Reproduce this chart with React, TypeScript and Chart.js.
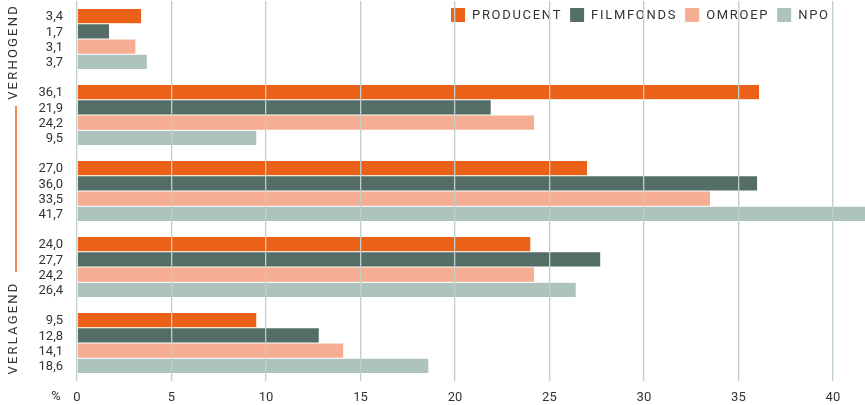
import React, { useEffect, useRef } from "react";
import { Chart, registerables } from "chart.js";

Chart.register(...registerables);

const categories = ["g1", "g2", "g3", "g4", "g5"];
const seriesNames = ["PRODUCENT", "FILMFONDS", "OMROEP", "NPO"];
const producent = [3.4, 36.1, 27.0, 24.0, 9.5];
const filmfonds = [1.7, 21.9, 36.0, 27.7, 12.8];
const omroep = [3.1, 24.2, 33.5, 24.2, 14.1];
const npo = [3.7, 9.5, 41.7, 26.4, 18.6];
const colors = ["#EC6118", "#546E67", "#F6AE93", "#AEC3BE"];
const sideLabels = ["VERHOGEND", "VERLAGEND"];
const unitLabel = "%";

const FONT = "Roboto, 'DejaVu Sans', sans-serif";
const TEXT = "#333333";

const decoPlugin = {
  id: "deco",
  afterDatasetsDraw(chart: any) {
    const ctx = chart.ctx as CanvasRenderingContext2D;
    ctx.save();
    ctx.font = `13px ${FONT}`;
    ctx.fillStyle = TEXT;
    ctx.textAlign = "right";
    ctx.textBaseline = "middle";
    chart.data.datasets.forEach((ds: any, di: number) => {
      const meta = chart.getDatasetMeta(di);
      meta.data.forEach((bar: any, i: number) => {
        const v = ds.data[i] as number;
        ctx.fillText(v.toFixed(1).replace(".", ","), 63, bar.y + 1);
      });
    });
    // % unit
    ctx.textAlign = "center";
    ctx.fillText(unitLabel, 56, 397);

    // legend
    (ctx as any).letterSpacing = "1.7px";
    ctx.textAlign = "left";
    let x = 451;
    const y = 15;
    seriesNames.forEach((name, i) => {
      ctx.fillStyle = colors[i];
      ctx.fillRect(x, y - 7, 14, 14);
      ctx.fillStyle = TEXT;
      ctx.fillText(name, x + 21, y + 1);
      const w = ctx.measureText(name).width;
      x += 21 + w + 8;
    });

    // side labels
    (ctx as any).letterSpacing = "2.2px";
    ctx.fillStyle = TEXT;
    ctx.textAlign = "center";
    ctx.save();
    ctx.translate(14, 52);
    ctx.rotate(-Math.PI / 2);
    ctx.fillText(sideLabels[0], 0, 0);
    ctx.restore();
    ctx.save();
    ctx.translate(14, 328);
    ctx.rotate(-Math.PI / 2);
    ctx.fillText(sideLabels[1], 0, 0);
    ctx.restore();
    (ctx as any).letterSpacing = "0px";

    ctx.strokeStyle = "#EC6118";
    ctx.lineWidth = 1.5;
    ctx.beginPath();
    ctx.moveTo(16, 106);
    ctx.lineTo(16, 272);
    ctx.stroke();
    ctx.restore();
  },
};

export default function App() {
  const ref = useRef<HTMLCanvasElement | null>(null);
  useEffect(() => {
    if (!ref.current) return;
    const series = [producent, filmfonds, omroep, npo];
    const chart = new Chart(ref.current, {
      type: "bar",
      data: {
        labels: categories,
        datasets: series.map((d, i) => ({
          label: seriesNames[i],
          data: d,
          backgroundColor: colors[i],
          borderColor: "#ffffff",
          borderWidth: { top: 0.5, bottom: 0.5, left: 0, right: 0 } as any,
          borderSkipped: false,
          categoryPercentage: 0.8,
          barPercentage: 1,
        })),
      },
      options: {
        indexAxis: "y",
        animation: false,
        responsive: false,
        maintainAspectRatio: false,
        layout: { padding: { left: 77, right: 0, top: 1, bottom: 0 } },
        plugins: { legend: { display: false }, tooltip: { enabled: false } },
        scales: {
          x: {
            min: 0,
            max: 41.7,
            border: { display: false },
            grid: { color: "#BFCFCB", lineWidth: 1.3, drawTicks: false, z: 1 },
            afterFit: (scale: any) => {
              scale.height = 24;
            },
            ticks: {
              stepSize: 5,
              includeBounds: false,
              padding: 9,
              color: TEXT,
              font: { family: FONT, size: 13 },
              maxRotation: 0,
            },
          },
          y: { display: false },
        },
      },
      plugins: [decoPlugin],
    });
    return () => chart.destroy();
  }, []);
  return (
    <div style={{ position: "fixed", left: 0, top: 0, width: 865, height: 405, background: "#fff" }}>
      <canvas ref={ref} width={865} height={405} style={{ width: 865, height: 405, display: "block" }} />
    </div>
  );
}
